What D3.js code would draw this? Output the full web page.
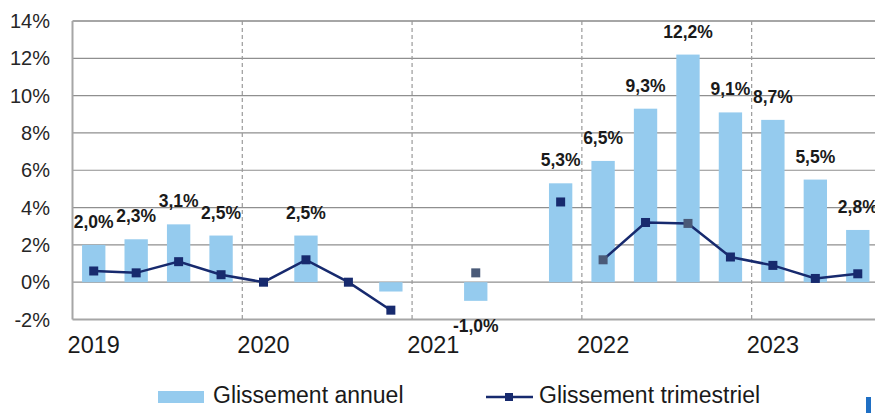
<!DOCTYPE html>
<html>
<head>
<meta charset="utf-8">
<script src="https://cdn.jsdelivr.net/npm/d3@7"></script>
<style>
  body { margin: 0; background: #fff; }
  svg { display: block; font-family: "Liberation Sans", Arial, sans-serif; }
</style>
</head>
<body>
<div id="chart"></div>
<script>
// trimestres 2019T1 -> 2023T3
var trimestres = ["2019T1","2019T2","2019T3","2019T4","2020T1","2020T2","2020T3","2020T4",
                  "2021T1","2021T2","2021T3","2021T4","2022T1","2022T2","2022T3","2022T4",
                  "2023T1","2023T2","2023T3"];
var annees = ["2019","2020","2021","2022","2023"];

// glissement annuel (barres), null = pas de barre
var glissAnnuel = [2.0, 2.3, 3.1, 2.5, null, 2.5, null, -0.5,
                   null, -1.0, null, 5.3, 6.5, 9.3, 12.2, 9.1,
                   8.7, 5.5, 2.8];
// etiquettes affichées (null = pas d'etiquette)
var etiquettes = ["2,0%","2,3%","3,1%","2,5%",null,"2,5%",null,null,
                  null,"-1,0%",null,"5,3%","6,5%","9,3%","12,2%","9,1%",
                  "8,7%","5,5%","2,8%"];

// glissement trimestriel (ligne)
var glissTrim = [0.6, 0.5, 1.1, 0.4, 0.0, 1.2, 0.0, -1.5,
                 null, 0.5, null, 4.3, 1.2, 3.2, 3.15, 1.35,
                 0.9, 0.2, 0.45];
// points isolés (non reliés) et points en gris
var trimIsole = [9, 11];
var trimGris = [9, 12, 14];

var yTicks = [-2, 0, 2, 4, 6, 8, 10, 12, 14];

var width = 875, height = 413;
var plotLeft = 72.5, plotRight = 879, plotTop = 21, plotBottom = 319.5;

var svg = d3.select("#chart").append("svg")
    .attr("width", width)
    .attr("height", height);

var x = d3.scaleBand()
    .domain(trimestres)
    .range([plotLeft, plotRight])
    .paddingInner(0.45)
    .paddingOuter(0.225);

var y = d3.scaleLinear()
    .domain([-2, 14])
    .range([plotBottom, plotTop]);

var step = x.step();
function centre(q) { return x(q) + x.bandwidth() / 2; }

// grille horizontale
svg.append("g").selectAll("line")
    .data(yTicks)
    .enter().append("line")
    .attr("x1", plotLeft).attr("x2", width)
    .attr("y1", function (d) { return y(d); })
    .attr("y2", function (d) { return y(d); })
    .attr("stroke", function (d) { return (d === -2 || d === 14) ? "#a6a6a6" : "#8f8f8f"; })
    .attr("stroke-width", function (d) { return (d === -2 || d === 14) ? 2 : 1.2; });

// separateurs d'annees (pointilles)
svg.append("g").selectAll("line")
    .data(annees.slice(1))
    .enter().append("line")
    .attr("x1", function (d) { return centre(d + "T1") - step / 2; })
    .attr("x2", function (d) { return centre(d + "T1") - step / 2; })
    .attr("y1", plotTop).attr("y2", plotBottom)
    .attr("stroke", "#9a9a9a")
    .attr("stroke-width", 1.2)
    .attr("stroke-dasharray", "4,3");

// axe vertical
svg.append("line")
    .attr("x1", plotLeft).attr("x2", plotLeft)
    .attr("y1", plotTop).attr("y2", plotBottom)
    .attr("stroke", "#a6a6a6")
    .attr("stroke-width", 2);

// etiquettes axe Y
svg.append("g").selectAll("text")
    .data(yTicks)
    .enter().append("text")
    .attr("x", 50)
    .attr("y", function (d) { return y(d) + 7; })
    .attr("text-anchor", "end")
    .attr("font-size", 20)
    .attr("fill", "#262626")
    .text(function (d) { return d + "%"; });

// annees
svg.append("g").selectAll("text")
    .data(annees)
    .enter().append("text")
    .attr("x", function (d) { return centre(d + "T1"); })
    .attr("y", 353)
    .attr("text-anchor", "middle")
    .attr("font-size", 23.5)
    .attr("fill", "#1a1a1a")
    .text(function (d) { return d; });

// barres
var barres = trimestres.map(function (q, i) { return { q: q, v: glissAnnuel[i], lab: etiquettes[i] }; });

svg.append("g").selectAll("rect")
    .data(barres.filter(function (d) { return d.v !== null; }))
    .enter().append("rect")
    .attr("x", function (d) { return x(d.q); })
    .attr("width", x.bandwidth())
    .attr("y", function (d) { return y(Math.max(0, d.v)); })
    .attr("height", function (d) { return Math.abs(y(d.v) - y(0)); })
    .attr("fill", "#95cbee");

// etiquettes des barres
svg.append("g").selectAll("text")
    .data(barres.filter(function (d) { return d.lab !== null; }))
    .enter().append("text")
    .attr("x", function (d) { return centre(d.q); })
    .attr("y", function (d) { return d.v >= 0 ? y(d.v) - 17 : y(d.v) + 31; })
    .attr("text-anchor", "middle")
    .attr("font-size", 17.5)
    .attr("font-weight", "bold")
    .attr("fill", "#1a1a1a")
    .text(function (d) { return d.lab; });

// ligne trimestrielle
var points = trimestres.map(function (q, i) {
    return { q: q, v: glissTrim[i], isole: trimIsole.indexOf(i) >= 0, gris: trimGris.indexOf(i) >= 0 };
});

var ligne = d3.line()
    .defined(function (d) { return d.v !== null && !d.isole; })
    .x(function (d) { return centre(d.q); })
    .y(function (d) { return y(d.v); });

svg.append("path")
    .datum(points)
    .attr("d", ligne)
    .attr("fill", "none")
    .attr("stroke", "#172a6e")
    .attr("stroke-width", 2.5);

var m = 9;
svg.append("g").selectAll("rect")
    .data(points.filter(function (d) { return d.v !== null; }))
    .enter().append("rect")
    .attr("x", function (d) { return centre(d.q) - m / 2; })
    .attr("y", function (d) { return y(d.v) - m / 2; })
    .attr("width", m).attr("height", m)
    .attr("fill", function (d) { return d.gris ? "#4a5a78" : "#172a6e"; });

// legende
var leg = svg.append("g");
leg.append("rect")
    .attr("x", 158).attr("y", 391)
    .attr("width", 46).attr("height", 12)
    .attr("fill", "#95cbee");
leg.append("text")
    .attr("x", 213).attr("y", 403)
    .attr("font-size", 23)
    .attr("fill", "#1a1a1a")
    .text("Glissement annuel");
leg.append("line")
    .attr("x1", 486).attr("x2", 533)
    .attr("y1", 397).attr("y2", 397)
    .attr("stroke", "#172a6e")
    .attr("stroke-width", 2.5);
leg.append("rect")
    .attr("x", 505).attr("y", 393)
    .attr("width", 8).attr("height", 8)
    .attr("fill", "#172a6e");
leg.append("text")
    .attr("x", 539).attr("y", 403)
    .attr("font-size", 23)
    .attr("fill", "#1a1a1a")
    .text("Glissement trimestriel");

// petit trait bleu a droite
svg.append("rect")
    .attr("x", 866).attr("y", 397)
    .attr("width", 5).attr("height", 16)
    .attr("fill", "#1f6fc4");
</script>
</body>
</html>
